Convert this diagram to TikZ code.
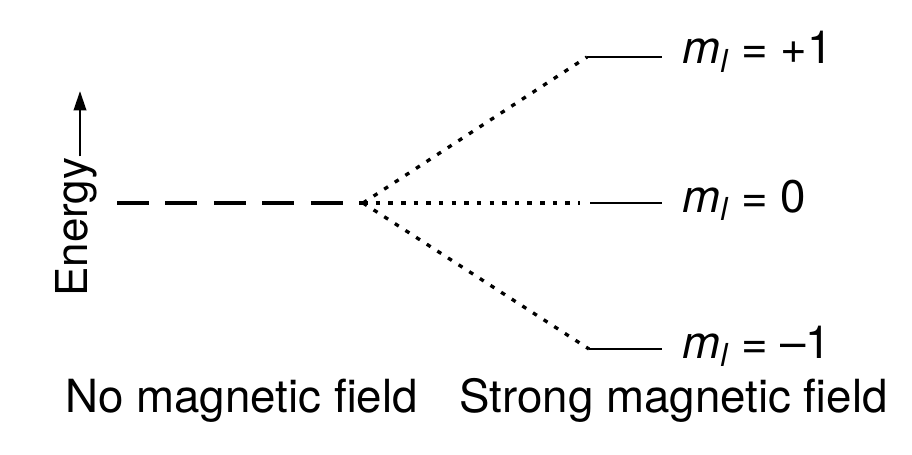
\documentclass[tikz,border=0pt]{standalone}
\usepackage{fontspec}
\setmainfont{TeX Gyre Heros}
\usetikzlibrary{arrows.meta}
\begin{document}
\begin{tikzpicture}[x=0.02cm,y=-0.02cm,
  lab/.style={font=\fontsize{26}{30}\selectfont, inner sep=0pt},
  axislab/.style={font=\fontsize{25}{29}\selectfont, inner sep=0pt},
  level/.style={line width=1.4pt},
  split/.style={line width=1.9pt, dash pattern=on 2.6pt off 4.6pt},
  zerofield/.style={line width=1.9pt, dash pattern=on 18pt off 9.6pt}]
\useasboundingbox (0,0) rectangle (912,455);
% energy axis: the arrow continues the word upwards
\node[axislab, rotate=90, anchor=base west] (energy) at (87,297) {Energy};
\path (energy.base east) ++(-7,-1) coordinate (etail);
\coordinate (etip) at (etail |- 0,91);
\draw[line width=1.5pt, -{Triangle[length=11pt,width=7pt]}] (etail) -- (etip);
% degenerate level and splitting point
\coordinate (z0) at (117,203);
\coordinate (s) at (363,203);
\draw[zerofield] (z0) -- (s);
% split levels
\coordinate (u1) at (587,57);  \coordinate (u2) at (662,57);
\coordinate (c1) at (590,203); \coordinate (c2) at (662,203);
\coordinate (d1) at (589,349); \coordinate (d2) at (662,349);
\draw[split] (s) -- (u1);
\draw[split] (s) -- (580,203) coordinate (cm);
\draw[split] (s) -- (d1);
\draw[level] (u1) -- (u2);
\draw[level] (c1) -- (c2);
\draw[level] (d1) -- (d2);
\newcommand\mlsym{\textit{m}\raisebox{-0.35ex}{\textit{\fontsize{18}{20}\selectfont l}}}
\node[lab, anchor=west] (lp) at (682,52) {\mlsym\ = +1};
\node[lab, anchor=west] (l0) at (682,200) {\mlsym\ = 0};
\node[lab, anchor=west] (lm) at (682,346) {\mlsym\ = –1};
% captions
\node[lab, anchor=base west] (nof) at (65,413) {No magnetic field};
\node[lab, anchor=base east] (sf) at (888,413) {Strong magnetic field};
\end{tikzpicture}
\end{document}
